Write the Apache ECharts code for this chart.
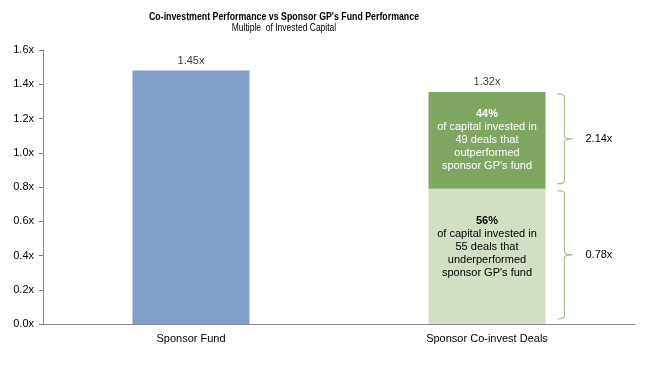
<!DOCTYPE html>
<html><head><meta charset="utf-8">
<script src="https://cdn.jsdelivr.net/npm/echarts@6/dist/echarts.min.js"></script>
<style>html,body{margin:0;padding:0;background:#fff}#c{width:649px;height:368px}</style>
</head><body><div id="c"></div>
<script>
var categories = ['Sponsor Fund', 'Sponsor Co-invest Deals'];
var fundValues = [1.48, '-'];
var underValues = ['-', 0.79];
var outValues = ['-', 0.565];
var totalLabels = ['1.45x', '1.32x'];
var bracketRanges = [[1, 0.79, 1.355], [1, 0.0, 0.79]];
var bracketLabels = ['2.14x', '0.78x'];
var yTicks = [0, 0.2, 0.4, 0.6, 0.8, 1.0, 1.2, 1.4, 1.6];
var titleText = "Co-investment Performance vs Sponsor GP's Fund Performance";
var subtitleText = 'Multiple  of Invested Capital';
var outText = ['44%', 'of capital invested in', '49 deals that', 'outperformed', "sponsor GP's fund"];
var underText = ['56%', 'of capital invested in', '55 deals that', 'underperformed', "sponsor GP's fund"];

var FONT = "'Liberation Sans', Arial, sans-serif";
function richLabel(lines) {
  return '{b|' + lines[0] + '}\n' + lines.slice(1).map(function (l) { return '{t|' + l + '}'; }).join('\n');
}
var totals = fundValues.map(function (v, i) {
  var s = 0;
  [fundValues[i], underValues[i], outValues[i]].forEach(function (x) { if (typeof x === 'number') s += x; });
  return s;
});

var chart = echarts.init(document.getElementById('c'));
chart.setOption({
  animation: false,
  textStyle: { fontFamily: FONT },
  graphic: [
    { type: 'text', x: 284, y: 16.5, scaleX: 0.8, scaleY: 1, originX: 0, silent: true,
      style: { text: titleText, align: 'center', verticalAlign: 'middle', fill: '#000',
        font: 'bold 11px ' + FONT } },
    { type: 'text', x: 284, y: 28, scaleX: 0.85, scaleY: 1, silent: true,
      style: { text: subtitleText, align: 'center', verticalAlign: 'middle', fill: '#000',
        font: '10px ' + FONT } }
  ],
  grid: { left: 43, right: 14, top: 50, bottom: 44 },
  xAxis: {
    type: 'category', data: categories,
    axisLine: { lineStyle: { color: '#888', width: 1 } },
    axisTick: { show: false },
    axisLabel: { color: '#000', fontSize: 11, margin: 9, fontFamily: FONT }
  },
  yAxis: {
    type: 'value', min: yTicks[0], max: yTicks[yTicks.length - 1], interval: 0.2,
    axisLine: { show: true, lineStyle: { color: '#888', width: 1 } },
    axisTick: { show: true, length: 4, lineStyle: { color: '#777' } },
    splitLine: { show: false },
    axisLabel: { color: '#000', fontSize: 11, margin: 9, fontFamily: FONT,
      formatter: function (v) { return v.toFixed(1) + 'x'; } }
  },
  series: [
    { type: 'bar', stack: 'a', data: fundValues, barWidth: 117,
      itemStyle: { color: '#819FCA' } },
    { type: 'bar', stack: 'a', data: underValues,
      itemStyle: { color: '#D3DFC4' },
      label: { show: true, position: 'inside', offset: [0, -9],
        formatter: function () { return richLabel(underText); },
        rich: {
          b: { fontSize: 11, fontWeight: 'bold', color: '#000', lineHeight: 13, fontFamily: FONT },
          t: { fontSize: 11, color: '#000', lineHeight: 13, fontFamily: FONT }
        } } },
    { type: 'bar', stack: 'a', data: outValues,
      itemStyle: { color: '#80A762' },
      label: { show: true, position: 'inside',
        formatter: function () { return richLabel(outText); },
        rich: {
          b: { fontSize: 11, fontWeight: 'bold', color: '#fff', lineHeight: 13, fontFamily: FONT },
          t: { fontSize: 11, color: '#fff', lineHeight: 13, fontFamily: FONT }
        } } },
    { type: 'scatter', data: totals, symbolSize: 2, itemStyle: { color: 'rgba(0,0,0,0)' },
      silent: true, z: 10,
      label: { show: true, position: 'top', distance: 3, color: '#000', fontSize: 11, fontFamily: FONT,
        formatter: function (p) { return totalLabels[p.dataIndex]; } } },
    { type: 'custom', data: bracketRanges, z: 5,
      renderItem: function (params, api) {
        var lo = api.coord([api.value(0), api.value(1)]);
        var hi = api.coord([api.value(0), api.value(2)]);
        var half = api.size([1, 0])[0] * 0.395 / 2;
        var x0 = lo[0] + half + 12, x1 = x0 + 7, x2 = x1 + 8;
        var yT = hi[1] + 2, yB = lo[1] - 5, yM = (yT + yB) / 2, r = 3;
        var d = 'M' + x0 + ' ' + yT + ' Q' + x1 + ' ' + yT + ' ' + x1 + ' ' + (yT + r) +
          ' L' + x1 + ' ' + (yM - r) + ' Q' + x1 + ' ' + yM + ' ' + x2 + ' ' + yM +
          ' Q' + x1 + ' ' + yM + ' ' + x1 + ' ' + (yM + r) +
          ' L' + x1 + ' ' + (yB - r) + ' Q' + x1 + ' ' + yB + ' ' + x0 + ' ' + yB;
        return { type: 'group', children: [
          { type: 'path', shape: { pathData: d }, style: { fill: 'none', stroke: '#A6C38D', lineWidth: 1.2 } },
          { type: 'text', style: { text: bracketLabels[params.dataIndex], x: x2 + 13, y: yM,
              verticalAlign: 'middle', fill: '#000', font: '11px ' + FONT } }
        ] };
      } }
  ]
});
</script></body></html>
